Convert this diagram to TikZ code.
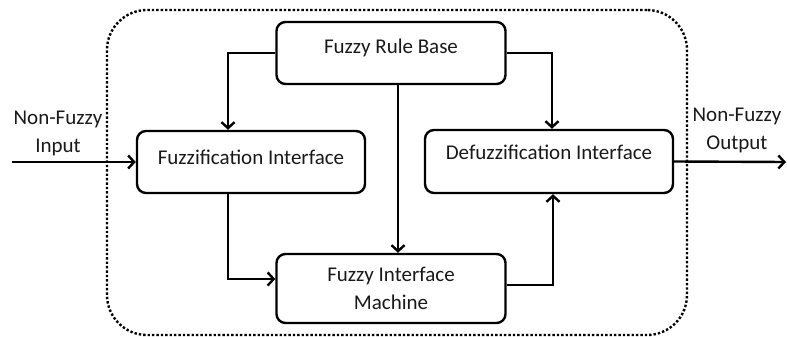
\documentclass[tikz,border=0pt]{standalone}
\usepackage{fontspec}
\setmainfont{Carlito}
\usetikzlibrary{arrows.meta}

\begin{document}
\begin{tikzpicture}[
    x=1pt, y=-1pt,
    block/.style={draw, line width=2.4pt, rounded corners=9pt, align=center,
                  inner sep=0pt, text height=13.5pt, text depth=0pt},
    link/.style={draw, line width=2.4pt, -{Straight Barb[length=6pt, width=13pt, line width=2.4pt]}},
    border/.style={draw, line width=2.4pt, dotted, rounded corners=40pt, inner sep=0pt},
    caption/.style={align=center, inner sep=0pt},
    every node/.style={font=\fontsize{21}{28}\selectfont, text=black!90}
]
  \useasboundingbox (0,0) rectangle (787,337);
  % --- the system boundary ------------------------------------------------
  \node[border, minimum width=580pt, minimum height=325pt] (system) at (397,172.5) {};
  % --- the four blocks ----------------------------------------------------
  \node[block, minimum width=229pt, minimum height=62pt, text depth=12pt] (rule) at (391,53) {Fuzzy Rule Base};
  \node[block, minimum width=228pt, minimum height=62pt, text depth=8pt] (fuzz) at (251,162) {Fuzzification Interface};
  \node[block, minimum width=248pt, minimum height=63pt, text depth=17pt] (defuzz) at (549,161.5) {Defuzzification Interface};
  \node[block, minimum width=229pt, minimum height=69pt, text height=, text depth=] (machine) at (391,288.5) {Fuzzy Interface\\Machine};
  % --- input and output ---------------------------------------------------
  \coordinate (in) at (12,162);
  \coordinate (out) at (786,162);
  \node[caption] (inlabel) at (58,133) {Non-Fuzzy\\Input};
  \node[caption] (outlabel) at (737,130) {Non-Fuzzy\\Output};
  \draw[link] (in) -- (fuzz.west);
  \draw[link] (defuzz.east) -- (out);
  % --- connectors ---------------------------------------------------------
  \draw[link] (rule.west) -| ([xshift=-23pt]fuzz.north);
  \draw[link] (rule.east) -| ([xshift=3pt]defuzz.north);
  \draw[link] ([xshift=7pt]rule.south) -- ([xshift=7pt]machine.north);
  \draw[link] ([xshift=-23pt]fuzz.south) |- ([yshift=9.5pt]machine.west);
  \draw[link] ([yshift=3.5pt]machine.east) -| ([xshift=4pt]defuzz.south);
\end{tikzpicture}
\end{document}
